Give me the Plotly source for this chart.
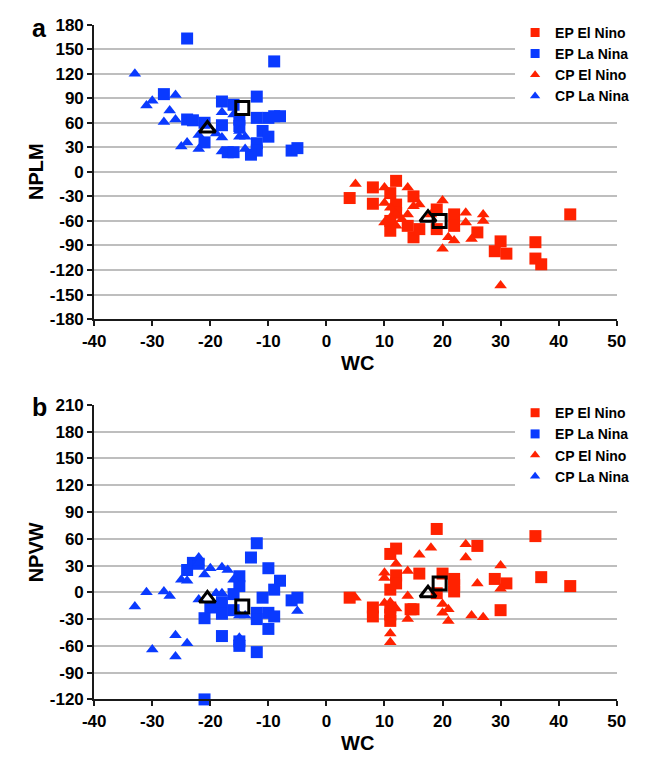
import plotly.graph_objects as go

W, H = 646, 765
FONT = "Liberation Sans"
RED = "#FF2200"
BLUE = "#0A3AFF"
GRID = "#BEBEBE"
INK = "#1A1A1A"

# ---------------- panel a: WC vs NPLM ----------------
a_ep_nino_x = [4, 8, 8, 11, 12, 12, 11, 11, 12, 15, 14, 15, 16, 19, 19, 22, 22, 26, 29, 30, 31, 36, 36, 37, 42]
a_ep_nino_y = [-32, -19, -39, -26, -11, -40, -72, -60, -50, -30, -66, -80, -70, -46, -70, -52, -66, -74, -97, -85, -100, -86, -106, -113, -52]

a_ep_nina_x = [-24, -9, -28, -18, -16, -12, -24, -23, -21, -18, -15, -15, -12, -10, -9, -8, -11, -10, -21, -12, -12, -13, -17, -16, -6, -5]
a_ep_nina_y = [163, 135, 95, 86, 82, 92, 64, 63, 60, 57, 64, 56, 66, 66, 68, 68, 50, 43, 36, 35, 26, 21, 24, 24, 26, 29]

a_cp_nino_x = [5, 10, 10, 14, 14, 15, 16, 11, 10, 12, 11, 12, 13, 20, 24, 24, 27, 27, 21, 22, 20, 25, 30, 18]
a_cp_nino_y = [-15, -19, -38, -19, -52, -42, -40, -44, -62, -52, -56, -66, -58, -35, -50, -62, -52, -60, -80, -84, -94, -82, -139, -52]

a_cp_nina_x = [-33, -30, -31, -26, -27, -28, -26, -25, -24, -22, -22, -18, -16, -18, -19, -18, -15, -15, -14, -14]
a_cp_nina_y = [120, 87, 81, 94, 75, 61, 64, 31, 36, 45, 28, 73, 70, 42, 47, 25, 50, 43, 43, 28]

# composite (mean) positions: EP = square, CP = triangle
a_ep_mean_x = [-14.5, 19.5]
a_ep_mean_y = [78, -60]
a_cp_mean_x = [-20.5, 17.5]
a_cp_mean_y = [53, -56]

# ---------------- panel b: WC vs NPVW ----------------
b_ep_nino_x = [19, 26, 12, 11, 12, 16, 12, 11, 4, 8, 8, 11, 11, 11, 15, 14.5, 20, 22, 22, 22, 19, 29, 31, 30, 36, 37, 42]
b_ep_nino_y = [71, 52, 49, 43, 19, 21, 10, 3, -6, -17, -27, -17, -25, -32, -19, -19, 21, 15, 8, 1, -1, 15, 10, -20, 63, 17, 7]

b_ep_nina_x = [-12, -13, -24, -23, -22, -10, -8, -9, -15, -15, -16, -11, -6, -5, -20, -18, -18, -21, -16, -12, -12, -10, -9, -10, -18, -15, -15, -12, -21]
b_ep_nina_y = [55, 39, 25, 33, 32, 27, 13, 3, 18, 7, -2, -6, -9, -6, -17, -11, -24, -29, -20, -23, -30, -23, -27, -41, -49, -55, -60, -67, -120]

b_cp_nino_x = [18, 16, 24, 24, 30, 12, 14, 10, 10, 26, 30, 14, 10, 11, 12, 14, 20, 20, 21, 21, 25, 27, 11, 11, 5]
b_cp_nino_y = [50, 42, 54, 39, 30, 32, 24, 22, 16, 10, 4, -4, -12, -11, -18, -30, -13, -23, -19, -32, -26, -28, -46, -56, -6]

b_cp_nina_x = [-33, -31, -28, -27, -25, -24, -22, -22, -20, -21, -18, -17, -22, -19, -18, -16, -15, -15, -15, -14, -26, -24, -30, -26, -5]
b_cp_nina_y = [-16, 0, 1, -4, 14, 13, 39, 33, 27, 20, 28, 25, -8, -1, -1, 14, -26, -51, -56, -26, -48, -57, -64, -72, -21]

b_ep_mean_x = [-14.5, 19.5]
b_ep_mean_y = [-16, 10]
b_cp_mean_x = [-20.5, 17.5]
b_cp_mean_y = [-7, -1]

# ---------------- axes ----------------
x_ticks = [-40, -30, -20, -10, 0, 10, 20, 30, 40, 50]
a_y_ticks = [-180, -150, -120, -90, -60, -30, 0, 30, 60, 90, 120, 150, 180]
b_y_ticks = [-120, -90, -60, -30, 0, 30, 60, 90, 120, 150, 180, 210]

series_names = ["EP El Nino", "EP La Nina", "CP El Nino", "CP La Nina"]
series_colors = [RED, BLUE, RED, BLUE]
series_symbols = ["square", "square", "triangle-up", "triangle-up"]


def px_x(p):
    return p / W


def px_y(p):
    return 1 - p / H


fig = go.Figure()


def add_panel(xa, ya, legend, groups, ep_mean, cp_mean):
    for (gx, gy), name, col, sym in zip(groups, series_names, series_colors, series_symbols):
        fig.add_trace(go.Scatter(
            x=gx, y=gy, mode="markers", name=name, xaxis=xa, yaxis=ya,
            showlegend=False, legendgroup=legend + name, cliponaxis=False,
            marker=dict(symbol=sym, size=12 if sym == "square" else 11, color=col,
                        line=dict(width=0)),
        ))
    fig.add_trace(go.Scatter(
        x=ep_mean[0], y=ep_mean[1], mode="markers", xaxis=xa, yaxis=ya, showlegend=False,
        marker=dict(symbol="square-open", size=13, color="black", line=dict(width=3, color="black")),
    ))
    fig.add_trace(go.Scatter(
        x=cp_mean[0], y=cp_mean[1], mode="markers", xaxis=xa, yaxis=ya, showlegend=False,
        marker=dict(symbol="triangle-up-open", size=14, color="black", line=dict(width=3, color="black")),
    ))
    # legend keys
    for name, col, sym in zip(series_names, series_colors, series_symbols):
        fig.add_trace(go.Scatter(
            x=[None], y=[None], mode="markers", name=name, xaxis=xa, yaxis=ya,
            legend=legend, legendgroup=legend + name,
            marker=dict(symbol=sym, size=9, color=col),
        ))


add_panel("x", "y", "legend",
          [(a_ep_nino_x, a_ep_nino_y), (a_ep_nina_x, a_ep_nina_y),
           (a_cp_nino_x, a_cp_nino_y), (a_cp_nina_x, a_cp_nina_y)],
          (a_ep_mean_x, a_ep_mean_y), (a_cp_mean_x, a_cp_mean_y))
add_panel("x2", "y2", "legend2",
          [(b_ep_nino_x, b_ep_nino_y), (b_ep_nina_x, b_ep_nina_y),
           (b_cp_nino_x, b_cp_nino_y), (b_cp_nina_x, b_cp_nina_y)],
          (b_ep_mean_x, b_ep_mean_y), (b_cp_mean_x, b_cp_mean_y))

tickfont = dict(family=FONT, size=17, color="black", weight="bold")
x_domain = [px_x(85), px_x(625)]


def x_axis(anchor):
    return dict(domain=x_domain, anchor=anchor, range=[-40, 50], tickmode="array",
                tickvals=x_ticks, ticktext=[str(v) for v in x_ticks], showgrid=False,
                zeroline=False, showline=True, linecolor=INK, linewidth=2,
                ticks="outside", ticklen=5, tickwidth=1.5, tickcolor=INK,
                tickfont=tickfont, fixedrange=True)


def y_axis(anchor, top, bottom, ticks):
    return dict(domain=[px_y(bottom), px_y(top)], anchor=anchor,
                range=[ticks[0], ticks[-1]], tickmode="array", tickvals=ticks,
                ticktext=[str(v) for v in ticks], showgrid=True, gridcolor=GRID,
                gridwidth=1.5, zeroline=False, showline=True, linecolor=INK, linewidth=2,
                ticks="outside", ticklen=5, tickwidth=1.5, tickcolor=INK,
                tickfont=tickfont, fixedrange=True)


legend_common = dict(font=dict(family=FONT, size=14, color="black", weight="bold"),
                     bgcolor="white", borderwidth=0, xanchor="left", yanchor="top",
                     tracegroupgap=0, itemclick=False, itemdoubleclick=False)

title_font = dict(family=FONT, size=20, color="black", weight="bold")
panel_font = dict(family=FONT, size=25, color="black", weight="bold")


def label(text, x, y, font, angle=0):
    return dict(text=text, x=px_x(x), y=px_y(y), xref="paper", yref="paper",
                showarrow=False, font=font, textangle=angle, xanchor="center",
                yanchor="middle")


fig.update_layout(
    width=W, height=H, autosize=False,
    margin=dict(l=0, r=0, t=0, b=0),
    paper_bgcolor="white", plot_bgcolor="white",
    font=dict(family=FONT, color="black"),
    xaxis=x_axis("y"),
    yaxis=y_axis("x", 16, 318, a_y_ticks),
    xaxis2=x_axis("y2"),
    yaxis2=y_axis("x2", 406, 708, b_y_ticks),
    legend=dict(x=px_x(520), y=px_y(8), **legend_common),
    legend2=dict(x=px_x(520), y=px_y(398), **legend_common),
    annotations=[
        label("a", 28, 19, panel_font),
        label("b", 28, 408, panel_font),
        label("NPLM", 25, 167, title_font, -90),
        label("NPVW", 25, 557, title_font, -90),
        label("WC", 357, 363, title_font),
        label("WC", 357, 753, title_font),
    ],
)

fig.write_html("out.html")
